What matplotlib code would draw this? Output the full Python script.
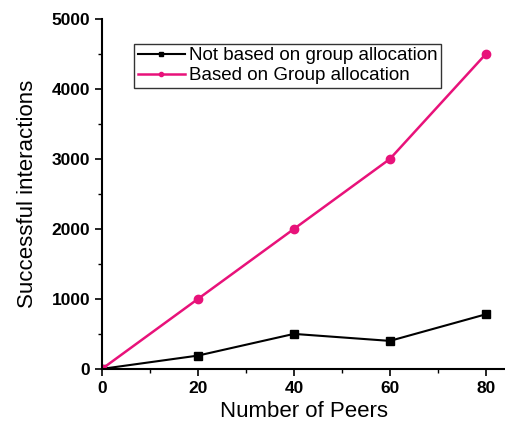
import matplotlib
matplotlib.use("Agg")
import matplotlib.pyplot as plt
from matplotlib.ticker import MultipleLocator

peers = [0, 20, 40, 60, 80]
not_group = [0, 190, 500, 400, 780]
group = [0, 1000, 2000, 3000, 4500]

plt.rcParams['font.family'] = ['Liberation Sans', 'DejaVu Sans']

fig = plt.figure(figsize=(5.05, 4.24), dpi=100)
ax = fig.add_axes([0.202, 0.13, 0.798, 0.825])

ax.plot(peers, not_group, color="black", marker="s", markersize=6,
        linewidth=1.5, label="Not based on group allocation")
ax.plot(peers, group, color="#e8127a", marker="o", markersize=6,
        linewidth=1.8, label="Based on Group allocation")

ax.set_xlim(0, 84)
ax.set_ylim(0, 5000)
ax.xaxis.set_major_locator(MultipleLocator(20))
ax.xaxis.set_minor_locator(MultipleLocator(10))
ax.yaxis.set_major_locator(MultipleLocator(1000))
ax.yaxis.set_minor_locator(MultipleLocator(500))
ax.spines['top'].set_visible(False)
ax.spines['right'].set_visible(False)
ax.spines['left'].set_linewidth(1.5)
ax.spines['bottom'].set_linewidth(1.5)
ax.tick_params(which="major", length=5, width=1.2, labelsize=12.5)
ax.tick_params(which="minor", length=3, width=1)
for lbl in ax.get_xticklabels() + ax.get_yticklabels():
    lbl.set_fontweight("bold")

ax.set_xlabel("Number of Peers", fontsize=16)
ax.set_ylabel("Successful interactions", fontsize=16, labelpad=10)

leg = ax.legend(loc="upper left", bbox_to_anchor=(0.08, 0.93), fontsize=13.5,
                frameon=True, fancybox=False, edgecolor="black",
                handlelength=2.5, handletextpad=0.2, borderpad=0.2,
                labelspacing=0.15, markerscale=0.5, borderaxespad=0)
leg.get_frame().set_linewidth(1.0)

fig.savefig("out.png", dpi=100)
